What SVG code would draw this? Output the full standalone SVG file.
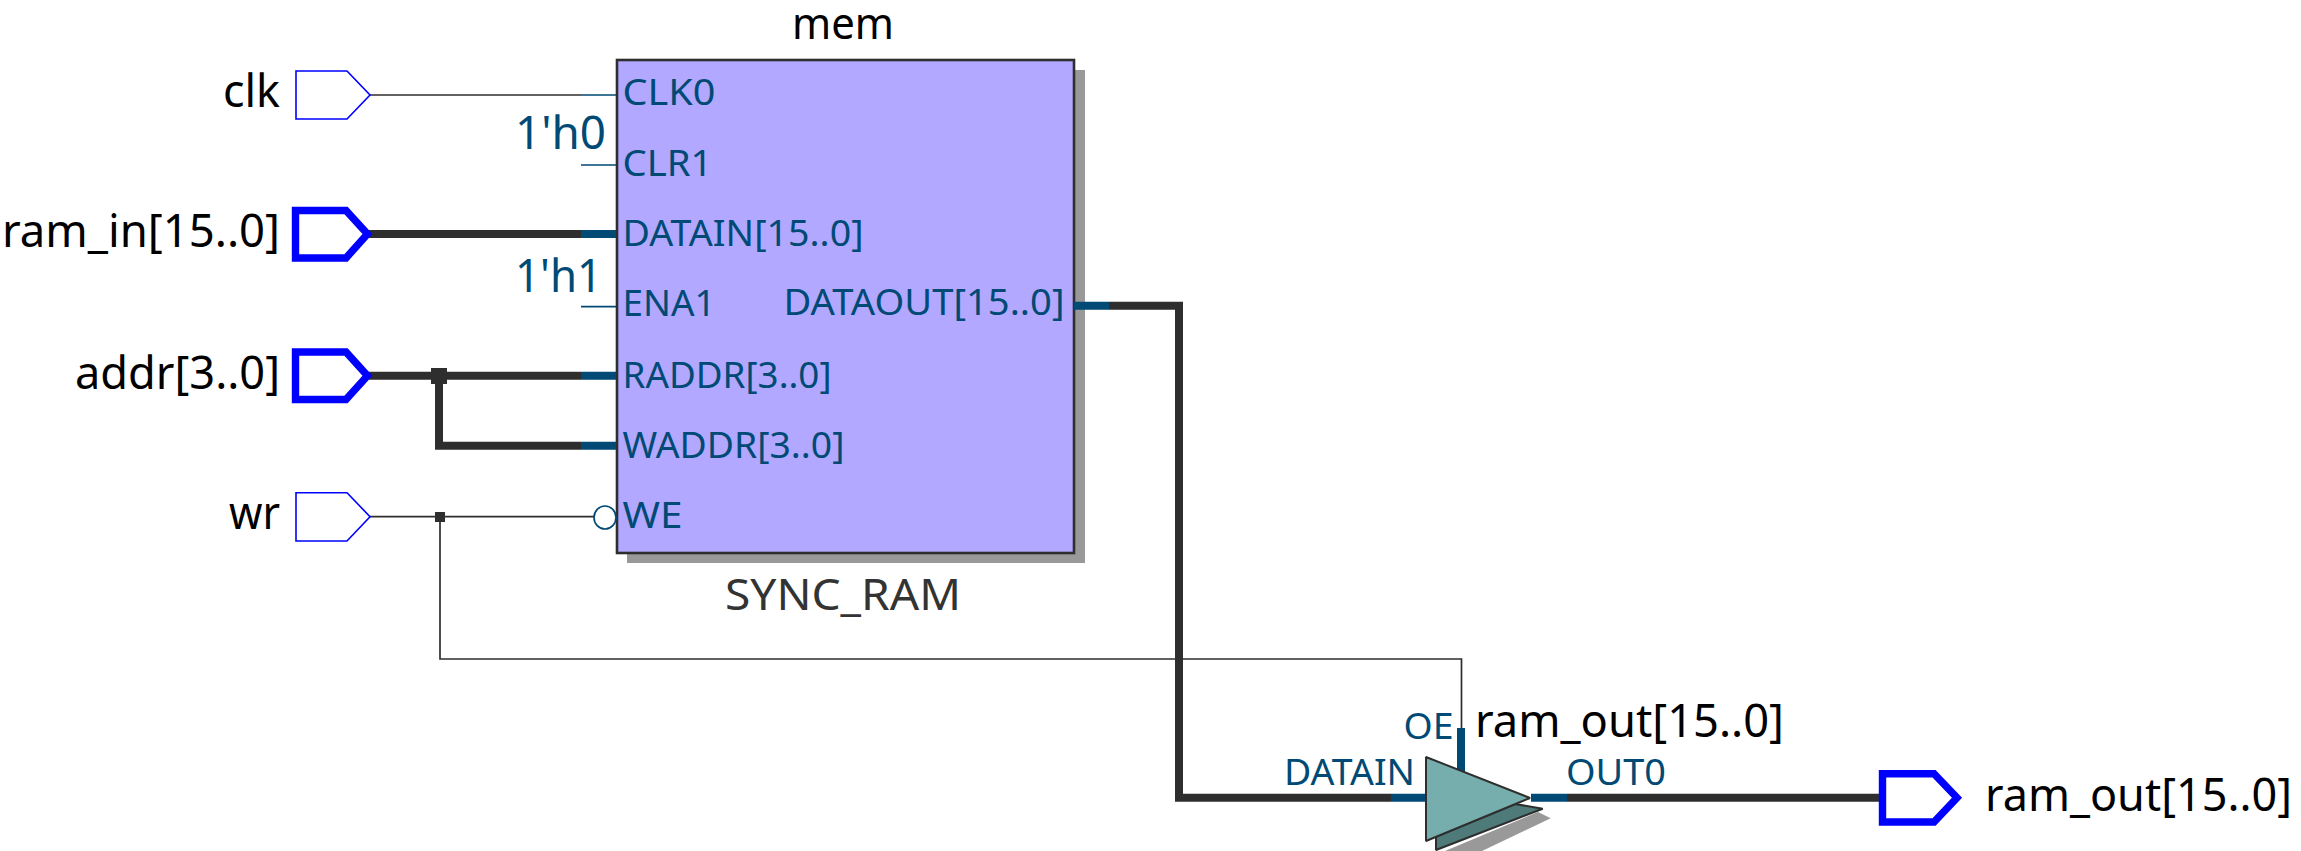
<svg xmlns="http://www.w3.org/2000/svg" width="2301" height="851" viewBox="0 0 2301 851">
<style>
text{font-family:"Noto Sans","Open Sans","DejaVu Sans",sans-serif;fill:#000}
.lbl{font-size:45px}
.inst{font-size:44px}
.port{font-size:37px;fill:#004a75}
.const{font-size:45px;fill:#004a75}
.type{font-size:43px;fill:#333}
.w{fill:none;stroke:#2e2e2e;stroke-linejoin:miter}
.t1{stroke-width:1.7}
.t8{stroke-width:8}
.s1{stroke:#004a75;stroke-width:1.7;fill:none}
.s8{stroke:#004a75;stroke-width:8;fill:none}
.pin1{fill:#fff;stroke:#0000ff;stroke-width:1.6}
.pin8{fill:#fff;stroke:#0000ff;stroke-width:7.4;stroke-miterlimit:10}
.tri{stroke:#2e2e2e;stroke-width:2;stroke-linejoin:bevel}
</style>
<rect width="2301" height="851" fill="#fff"/>
<g id="connectors">
<path class="w t1" d="M369 95H581"/>
<path class="w t8" d="M369 234H581"/>
<path class="w t8" d="M369 375.7H581"/>
<path class="w t8" d="M439 375.7V445.7H581"/>
<path class="w t1" d="M369 516.7H594"/>
<path class="w t1" d="M440 516.7V659H1461.500V728"/>
<path class="w t8" d="M1109 305.7H1179V797.7H1391"/>
<path class="w t8" d="M1567 797.7H1882"/>
<rect x="431" y="368" width="16" height="16" fill="#2e2e2e"/>
<rect x="435" y="512" width="10" height="10" fill="#2e2e2e"/>
</g>
<g id="clk"><path class="pin1" d="M296 71H347L370 95L347 119H296Z"/><text class="lbl" x="223" y="107" textLength="57" lengthAdjust="spacingAndGlyphs">clk</text></g>
<g id="ram_in"><path class="pin8" d="M295.500 210.500H346L367.500 234L346 258H295.500Z"/><text class="lbl" x="2" y="246.700" textLength="278" lengthAdjust="spacingAndGlyphs">ram_in[15..0]</text></g>
<g id="addr"><path class="pin8" d="M295.500 352H346L367.500 375.700L346 399.500H295.500Z"/><text class="lbl" x="75" y="389" textLength="205" lengthAdjust="spacingAndGlyphs">addr[3..0]</text></g>
<g id="wr"><path class="pin1" d="M296 492.700H347L370 516.700L347 541H296Z"/><text class="lbl" x="229" y="529" textLength="51" lengthAdjust="spacingAndGlyphs">wr</text></g>
<g id="mem">
<rect x="627" y="70" width="458" height="493" fill="#999"/>
<rect x="617" y="60" width="457" height="493" fill="#b2a8ff" stroke="#2e2e2e" stroke-width="2.600"/>
<path class="s1" d="M581 95H616M581 165H616M581 306.700H616"/>
<path class="s8" d="M581 234H616M581 375.700H616M581 445.700H616M1074 305.700H1109"/>
<ellipse cx="605" cy="517.500" rx="11" ry="11.500" fill="#fff" stroke="#004a75" stroke-width="1.700"/>
<text class="inst" x="792" y="39" textLength="102" lengthAdjust="spacingAndGlyphs">mem</text>
<text class="type" x="725" y="610" textLength="236" lengthAdjust="spacingAndGlyphs">SYNC_RAM</text>
<text class="const" x="515" y="149" textLength="91" lengthAdjust="spacingAndGlyphs">1'h0</text>
<text class="const" x="515" y="291.700" textLength="87" lengthAdjust="spacingAndGlyphs">1'h1</text>
<text class="port" x="622.500" y="105" textLength="93" lengthAdjust="spacingAndGlyphs">CLK0</text>
<text class="port" x="622.500" y="175.700" textLength="90" lengthAdjust="spacingAndGlyphs">CLR1</text>
<text class="port" x="622.500" y="245.700" textLength="241" lengthAdjust="spacingAndGlyphs">DATAIN[15..0]</text>
<text class="port" x="622.500" y="315.700" textLength="93" lengthAdjust="spacingAndGlyphs">ENA1</text>
<text class="port" x="622.500" y="388" textLength="209" lengthAdjust="spacingAndGlyphs">RADDR[3..0]</text>
<text class="port" x="622.500" y="457.700" textLength="222" lengthAdjust="spacingAndGlyphs">WADDR[3..0]</text>
<text class="port" x="622.500" y="528" textLength="60" lengthAdjust="spacingAndGlyphs">WE</text>
<text class="port" x="783.500" y="315" textLength="281" lengthAdjust="spacingAndGlyphs">DATAOUT[15..0]</text>
</g>
<g id="tri">
<path class="s8" d="M1461 728V772M1391 797.700H1426M1531 797.700H1567"/>
<path d="M1445 851L1538 812L1550.700 818.300L1482 851Z" fill="#999"/>
<path class="tri" d="M1436 850V836.600L1515 804L1542.700 808.700Z" fill="#4f7a7a"/>
<path class="tri" d="M1426 757L1530 798L1426 841Z" fill="#76adad"/>
<text class="port" x="1403.500" y="739" textLength="50" lengthAdjust="spacingAndGlyphs">OE</text>
<text class="port" x="1284" y="785" textLength="131" lengthAdjust="spacingAndGlyphs">DATAIN</text>
<text class="port" x="1566" y="785" textLength="100" lengthAdjust="spacingAndGlyphs">OUT0</text>
<text class="lbl" x="1475" y="737" textLength="309" lengthAdjust="spacingAndGlyphs">ram_out[15..0]</text>
</g>
<g id="ram_out"><path class="pin8" d="M1882.500 773.700H1934L1957 797.700L1934 822H1882.500Z"/><text class="lbl" x="1985" y="810.700" textLength="307" lengthAdjust="spacingAndGlyphs">ram_out[15..0]</text></g>
</svg>
